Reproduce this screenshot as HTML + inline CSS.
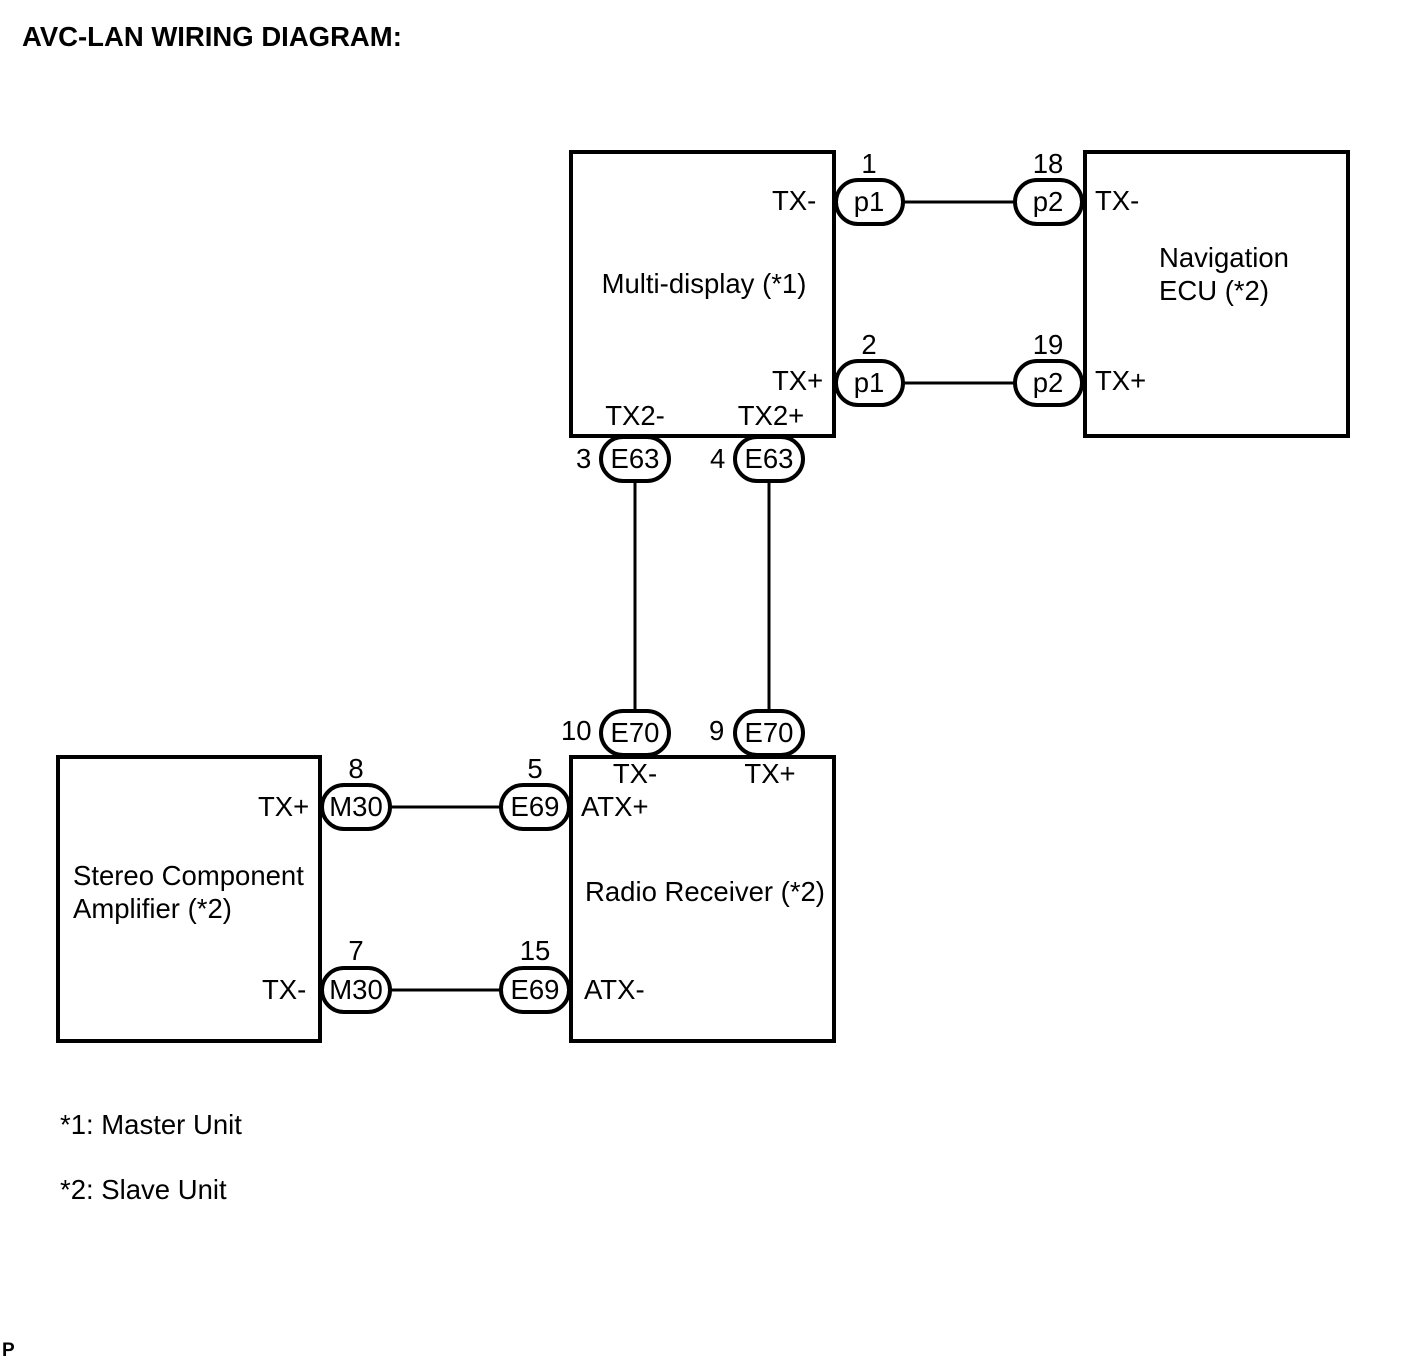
<!DOCTYPE html>
<html><head><meta charset="utf-8"><style>
html,body{margin:0;padding:0;background:#fff}
svg{display:block}
text{font-family:"Liberation Sans",Arial,sans-serif;fill:#000}
</style></head><body>
<svg width="1424" height="1361" viewBox="0 0 1424 1361" xmlns="http://www.w3.org/2000/svg">
<text x="22" y="46" font-size="27.5" font-weight="bold">AVC-LAN WIRING DIAGRAM:</text>
<g fill="none" stroke="#000" stroke-width="4">
<rect x="571" y="152" width="263" height="284"/>
<rect x="1085" y="152" width="263" height="284"/>
<rect x="58" y="757" width="262" height="284"/>
<rect x="571" y="757" width="263" height="284"/>
</g>
<g stroke="#000" stroke-width="3">
<line x1="903" y1="202" x2="1015" y2="202"/>
<line x1="903" y1="383" x2="1015" y2="383"/>
<line x1="635" y1="481" x2="635" y2="711"/>
<line x1="769" y1="481" x2="769" y2="711"/>
<line x1="390" y1="807" x2="501" y2="807"/>
<line x1="390" y1="990" x2="501" y2="990"/>
</g>
<g fill="#fff" stroke="#000" stroke-width="4">
<rect x="836" y="180" width="67" height="44" rx="22"/>
<rect x="1015" y="180" width="67" height="44" rx="22"/>
<rect x="836" y="361" width="67" height="44" rx="22"/>
<rect x="1015" y="361" width="67" height="44" rx="22"/>
<rect x="601" y="437" width="68" height="44" rx="22"/>
<rect x="735" y="437" width="68" height="44" rx="22"/>
<rect x="601" y="711" width="68" height="44" rx="22"/>
<rect x="735" y="711" width="68" height="44" rx="22"/>
<rect x="322" y="785" width="68" height="44" rx="22"/>
<rect x="501" y="785" width="68" height="44" rx="22"/>
<rect x="322" y="968" width="68" height="44" rx="22"/>
<rect x="501" y="968" width="68" height="44" rx="22"/>
</g>
<g font-size="27.5" text-anchor="middle">
<text x="869" y="211">p1</text>
<text x="1048" y="211">p2</text>
<text x="869" y="392">p1</text>
<text x="1048" y="392">p2</text>
<text x="635" y="468">E63</text>
<text x="769" y="468">E63</text>
<text x="635" y="742">E70</text>
<text x="769" y="742">E70</text>
<text x="356" y="816">M30</text>
<text x="535" y="816">E69</text>
<text x="356" y="999">M30</text>
<text x="535" y="999">E69</text>
<text x="869" y="173">1</text>
<text x="1048" y="173">18</text>
<text x="869" y="354">2</text>
<text x="1048" y="354">19</text>
<text x="356" y="778">8</text>
<text x="535" y="778">5</text>
<text x="356" y="960">7</text>
<text x="535" y="960">15</text>
<text x="635" y="425">TX2-</text>
<text x="771" y="425">TX2+</text>
<text x="635" y="783">TX-</text>
<text x="770" y="783">TX+</text>
<text x="704" y="293">Multi-display (*1)</text>
<text x="705" y="901">Radio Receiver (*2)</text>
</g>
<g font-size="27.5">
<text x="576" y="468">3</text>
<text x="710" y="468">4</text>
<text x="561" y="740">10</text>
<text x="709" y="740">9</text>
<text x="772" y="210">TX-</text>
<text x="772" y="390">TX+</text>
<text x="1095" y="210">TX-</text>
<text x="1095" y="390">TX+</text>
<text x="1159" y="267">Navigation</text>
<text x="1159" y="300">ECU (*2)</text>
<text x="258" y="816">TX+</text>
<text x="262" y="999">TX-</text>
<text x="581" y="816">ATX+</text>
<text x="584" y="999">ATX-</text>
<text x="73" y="885">Stereo Component</text>
<text x="73" y="918">Amplifier (*2)</text>
<text x="60" y="1134">*1: Master Unit</text>
<text x="60" y="1199">*2: Slave Unit</text>
</g>
<text x="2" y="1356" font-size="19" font-weight="bold">P</text>
</svg>
</body></html>
